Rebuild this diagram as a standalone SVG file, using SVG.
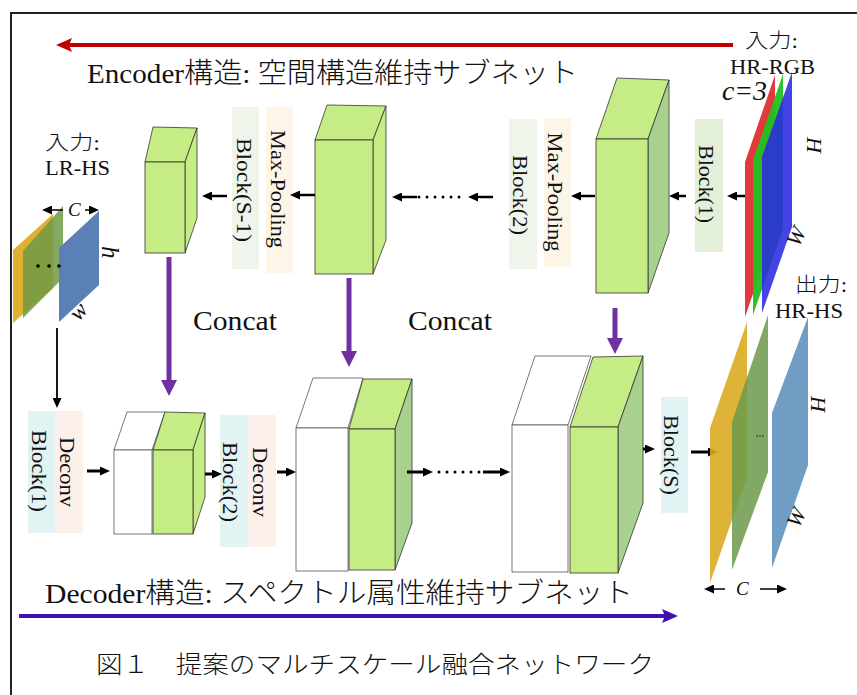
<svg xmlns="http://www.w3.org/2000/svg" width="857" height="695" viewBox="0 0 857 695">
<defs>
<style>
.t{font-family:"Liberation Serif","Noto Sans CJK JP",serif;fill:#111}
.lt{font-weight:300}
.it{font-style:italic}
.vl{font-size:22px}
.gf{fill:#c6ec86;stroke:#333;stroke-width:0.8}
.gs{fill:#a9d18e;stroke:#333;stroke-width:0.8}
.wf{fill:#fff;stroke:#555;stroke-width:0.8}
.sg{fill:#eff5ea}.sg2{fill:#e3efd9}.so{fill:#fdf5e8}.sc{fill:#e2f3f3}.sp{fill:#fcf0ea}
.ar{stroke:#000;stroke-width:2.5;fill:none;marker-end:url(#mb)}
.ad{stroke:#000;stroke-width:3;fill:none;marker-end:url(#mb)}
.at{stroke:#000;stroke-width:1.5;fill:none;marker-end:url(#mb)}
.dt{stroke:#000;stroke-width:3;stroke-linecap:round;stroke-dasharray:0 8;fill:none}
.pu{stroke:#7030a0;stroke-width:5;fill:none;marker-end:url(#mp)}
</style>
<marker id="mb" markerUnits="userSpaceOnUse" markerWidth="10" markerHeight="9" refX="4" refY="4.5" orient="auto"><path d="M0,0 L10,4.5 L0,9 z" fill="#000"/></marker>
<marker id="mp" markerUnits="userSpaceOnUse" markerWidth="16" markerHeight="16" refX="5" refY="8" orient="auto"><path d="M0,0 L16,8 L0,16 z" fill="#7030a0"/></marker>
<marker id="mr" markerUnits="userSpaceOnUse" markerWidth="16" markerHeight="14" refX="4" refY="7" orient="auto"><path d="M0,0 L16,7 L0,14 L3,7 z" fill="#c00000"/></marker>
<marker id="mi" markerUnits="userSpaceOnUse" markerWidth="16" markerHeight="14" refX="4" refY="7" orient="auto"><path d="M0,0 L16,7 L0,14 L3,7 z" fill="#4010b0"/></marker>
</defs>
<rect x="0" y="0" width="857" height="695" fill="#fff"/>
<rect x="11" y="13" width="860" height="700" fill="#fff" stroke="#222" stroke-width="2"/>

<!-- titles -->
<g id="encoder-title">
<line x1="733" y1="45" x2="68" y2="45" stroke="#c00000" stroke-width="4" marker-end="url(#mr)"/>
<text class="t lt" x="87" y="83" font-size="28" textLength="491" lengthAdjust="spacingAndGlyphs">Encoder構造: 空間構造維持サブネット</text>
</g>
<g id="decoder-title">
<line x1="19" y1="616" x2="666" y2="616" stroke="#4010b0" stroke-width="4" marker-end="url(#mi)"/>
<text class="t lt" x="45" y="603" font-size="28" textLength="588" lengthAdjust="spacingAndGlyphs">Decoder構造: スペクトル属性維持サブネット</text>
</g>
<g id="caption">
<text class="t lt" x="96" y="673" font-size="24" textLength="558" lengthAdjust="spacingAndGlyphs">図１　提案のマルチスケール融合ネットワーク</text>
</g>

<!-- input HR-RGB -->
<g id="input-hr-rgb">
<polygon points="745,162 775,75 775,230 745,317" fill="#e23a3a"/>
<polygon points="753,160 783,74 783,229 753,315" fill="#22c022" opacity="0.95"/>
<polygon points="762,157 792,72 792,227 762,313" fill="#2a2ae0" opacity="0.88"/>
<text class="t lt" x="745" y="48" font-size="20" textLength="53" lengthAdjust="spacingAndGlyphs">入力:</text>
<text class="t" x="730" y="74" font-size="21" textLength="85" lengthAdjust="spacingAndGlyphs">HR-RGB</text>
<text class="t it" x="722" y="100" font-size="27" textLength="45" lengthAdjust="spacingAndGlyphs">c=3</text>
<text class="t it" transform="translate(807,137) rotate(90)" font-size="22">H</text>
<text class="t it" transform="translate(799,248) rotate(-65)" font-size="22">W</text>
</g>

<!-- input LR-HS -->
<g id="input-lr-hs">
<text class="t lt" x="45" y="150" font-size="20" textLength="55" lengthAdjust="spacingAndGlyphs">入力:</text>
<text class="t" x="45" y="175" font-size="22" textLength="65" lengthAdjust="spacingAndGlyphs">LR-HS</text>
<polygon points="13,250 53,214 53,288 13,323" fill="#e0b030"/>
<polygon points="23,251 63,206 63,278 23,318" fill="#6f9a45" opacity="0.85"/>
<polygon points="59,248 99,211 99,285 59,322" fill="#5b80b8"/>
<circle cx="38" cy="266" r="1.8" fill="#000"/>
<circle cx="49" cy="266" r="1.8" fill="#000"/>
<circle cx="59" cy="266" r="1.8" fill="#000"/>
<line class="at" x1="63" y1="210" x2="48" y2="210"/>
<line class="at" x1="85" y1="210" x2="93" y2="210"/>
<text class="t it" x="68" y="216" font-size="19">C</text>
<text class="t it" transform="translate(102,246) rotate(90)" font-size="25">h</text>
<text class="t it" transform="translate(79,322) rotate(-50)" font-size="23">w</text>
</g>

<!-- encoder blocks -->
<g id="enc-block-3">
<polygon class="gf" points="596,139 617,78 669,80 648,139"/>
<polygon class="gs" points="648,139 669,80 669,233 648,293"/>
<rect class="gf" x="596" y="139" width="52" height="154"/>
</g>
<g id="enc-block-2">
<polygon class="gf" points="315,140 327,105 386,106 373,140"/>
<polygon class="gf" points="373,140 386,106 386,240 373,274"/>
<rect class="gf" x="315" y="140" width="58" height="134"/>
</g>
<g id="enc-block-1">
<polygon class="gf" points="145,162 153,127 197,128 185,162"/>
<polygon class="gf" points="185,162 197,128 197,218 185,253"/>
<rect class="gf" x="145" y="162" width="40" height="91"/>
</g>

<!-- encoder labels -->
<g id="lbl-block1">
<rect class="sg2" x="695" y="119" width="28" height="133"/>
<text class="t vl" transform="translate(699,184) rotate(90)" text-anchor="middle" textLength="78" lengthAdjust="spacingAndGlyphs">Block(1)</text>
</g>
<g id="lbl-maxpool-2">
<rect class="so" x="544" y="118" width="27" height="149"/>
<text class="t vl" transform="translate(548,192) rotate(90)" text-anchor="middle" textLength="119" lengthAdjust="spacingAndGlyphs">Max-Pooling</text>
</g>
<g id="lbl-block2">
<rect class="sg" x="509" y="119" width="28" height="150"/>
<text class="t vl" transform="translate(513,195) rotate(90)" text-anchor="middle" textLength="80" lengthAdjust="spacingAndGlyphs">Block(2)</text>
</g>
<g id="lbl-maxpool-1">
<rect class="so" x="266" y="107" width="27" height="166"/>
<text class="t vl" transform="translate(271,189) rotate(90)" text-anchor="middle" textLength="118" lengthAdjust="spacingAndGlyphs">Max-Pooling</text>
</g>
<g id="lbl-blockS-1">
<rect class="sg" x="232" y="107" width="27" height="162"/>
<text class="t vl" transform="translate(237,190) rotate(90)" text-anchor="middle" textLength="104" lengthAdjust="spacingAndGlyphs">Block(S-1)</text>
</g>

<g id="concat-labels">
<text class="t" x="193" y="330" font-size="28" textLength="84" lengthAdjust="spacingAndGlyphs">Concat</text>
<text class="t" x="408" y="330" font-size="28" textLength="84" lengthAdjust="spacingAndGlyphs">Concat</text>
</g>

<!-- decoder labels -->
<g id="lbl-deconv-1">
<rect class="sc" x="28" y="411" width="27" height="122"/>
<rect class="sp" x="55" y="411" width="28" height="122"/>
<text class="t vl" transform="translate(32,471) rotate(90)" text-anchor="middle" textLength="82" lengthAdjust="spacingAndGlyphs">Block(1)</text>
<text class="t vl" transform="translate(60,472) rotate(90)" text-anchor="middle" textLength="70" lengthAdjust="spacingAndGlyphs">Deconv</text>
</g>
<g id="lbl-deconv-2">
<rect class="sc" x="220" y="415" width="28" height="132"/>
<rect class="sp" x="248" y="415" width="28" height="132"/>
<text class="t vl" transform="translate(223,482) rotate(90)" text-anchor="middle" textLength="80" lengthAdjust="spacingAndGlyphs">Block(2)</text>
<text class="t vl" transform="translate(253,482) rotate(90)" text-anchor="middle" textLength="70" lengthAdjust="spacingAndGlyphs">Deconv</text>
</g>
<g id="lbl-blockS">
<rect class="sc" x="661" y="397" width="27" height="116"/>
<text class="t vl" transform="translate(664,455) rotate(90)" text-anchor="middle" textLength="80" lengthAdjust="spacingAndGlyphs">Block(S)</text>
</g>

<!-- decoder blocks -->
<g id="dec-block-1">
<polygon class="wf" points="114,450 127,412 165,412 152,450"/>
<rect class="wf" x="114" y="450" width="38" height="84"/>
<polygon class="gf" points="153,450 165,412 205,413 193,450"/>
<polygon class="gf" points="193,450 205,413 205,497 193,534"/>
<rect class="gf" x="153" y="450" width="40" height="84"/>
</g>
<g id="dec-block-2">
<polygon class="wf" points="296,428 313,378 363,378 348,428"/>
<rect class="wf" x="296" y="428" width="52" height="143"/>
<polygon class="gf" points="349,429 363,379 412,379 395,429"/>
<polygon class="gs" points="395,429 412,379 412,523 395,570"/>
<rect class="gf" x="349" y="429" width="46" height="141"/>
</g>
<g id="dec-block-3">
<polygon class="wf" points="512,425 535,356 591,356 568,425"/>
<rect class="wf" x="512" y="425" width="56" height="147"/>
<polygon class="gf" points="570,427 593,357 643,356 618,427"/>
<polygon class="gs" points="618,427 643,356 643,503 618,573"/>
<rect class="gf" x="570" y="427" width="48" height="146"/>
</g>

<!-- connectors -->
<g id="connectors">
<line class="ar" x1="745" y1="196" x2="733" y2="196"/>
<line class="ar" x1="686" y1="196" x2="675" y2="196"/>
<line class="ar" x1="595" y1="196" x2="577" y2="196"/>
<line class="ar" x1="493" y1="197" x2="474" y2="197"/>
<line class="dt" x1="419" y1="197" x2="462" y2="197"/>
<line class="ar" x1="417" y1="197" x2="398" y2="197"/>
<line class="ar" x1="315" y1="195" x2="296" y2="195"/>
<line class="ar" x1="227" y1="196" x2="208" y2="196"/>
<line class="pu" x1="169" y1="257" x2="169" y2="385"/>
<line class="pu" x1="349" y1="278" x2="349" y2="356"/>
<line class="pu" x1="615" y1="308" x2="615" y2="343"/>
<line stroke="#000" stroke-width="1.8" fill="none" marker-end="url(#mb)" x1="57" y1="328" x2="57" y2="402"/>
<line class="ad" x1="87" y1="471" x2="104" y2="471"/>
<line class="ad" x1="205" y1="474" x2="216" y2="474"/>
<line class="ad" x1="277" y1="472" x2="290" y2="472"/>
<line class="ad" x1="407" y1="472" x2="427" y2="472"/>
<line class="dt" x1="439" y1="472" x2="482" y2="472"/>
<line class="ad" x1="483" y1="472" x2="504" y2="472"/>
<line class="ad" x1="643" y1="449" x2="649" y2="449"/>
<line class="ad" x1="691" y1="452" x2="712" y2="452"/>
</g>

<!-- output HR-HS -->
<g id="output-hr-hs">
<polygon points="710,428 747,322 747,477 710,583" fill="#dcab22" opacity="0.9"/>
<polygon points="732,422 768,315 768,472 732,570" fill="#6b9a4a" opacity="0.85"/>
<polygon points="772,413 808,317 808,465 772,568" fill="#6f9dc4"/>
<circle cx="757" cy="436" r="0.8" fill="#222"/>
<circle cx="760" cy="436" r="0.8" fill="#222"/>
<circle cx="763" cy="436" r="0.8" fill="#222"/>
<text class="t lt" x="795" y="292" font-size="20" textLength="52" lengthAdjust="spacingAndGlyphs">出力:</text>
<text class="t" x="775" y="318" font-size="22" textLength="68" lengthAdjust="spacingAndGlyphs">HR-HS</text>
<text class="t it" transform="translate(811,396) rotate(90)" font-size="22">H</text>
<text class="t it" transform="translate(799,529) rotate(-65)" font-size="22">W</text>
<line class="at" x1="725" y1="589" x2="710" y2="589"/>
<line class="at" x1="760" y1="589" x2="781" y2="589"/>
<text class="t it" x="736" y="595" font-size="19">C</text>
</g>
</svg>
